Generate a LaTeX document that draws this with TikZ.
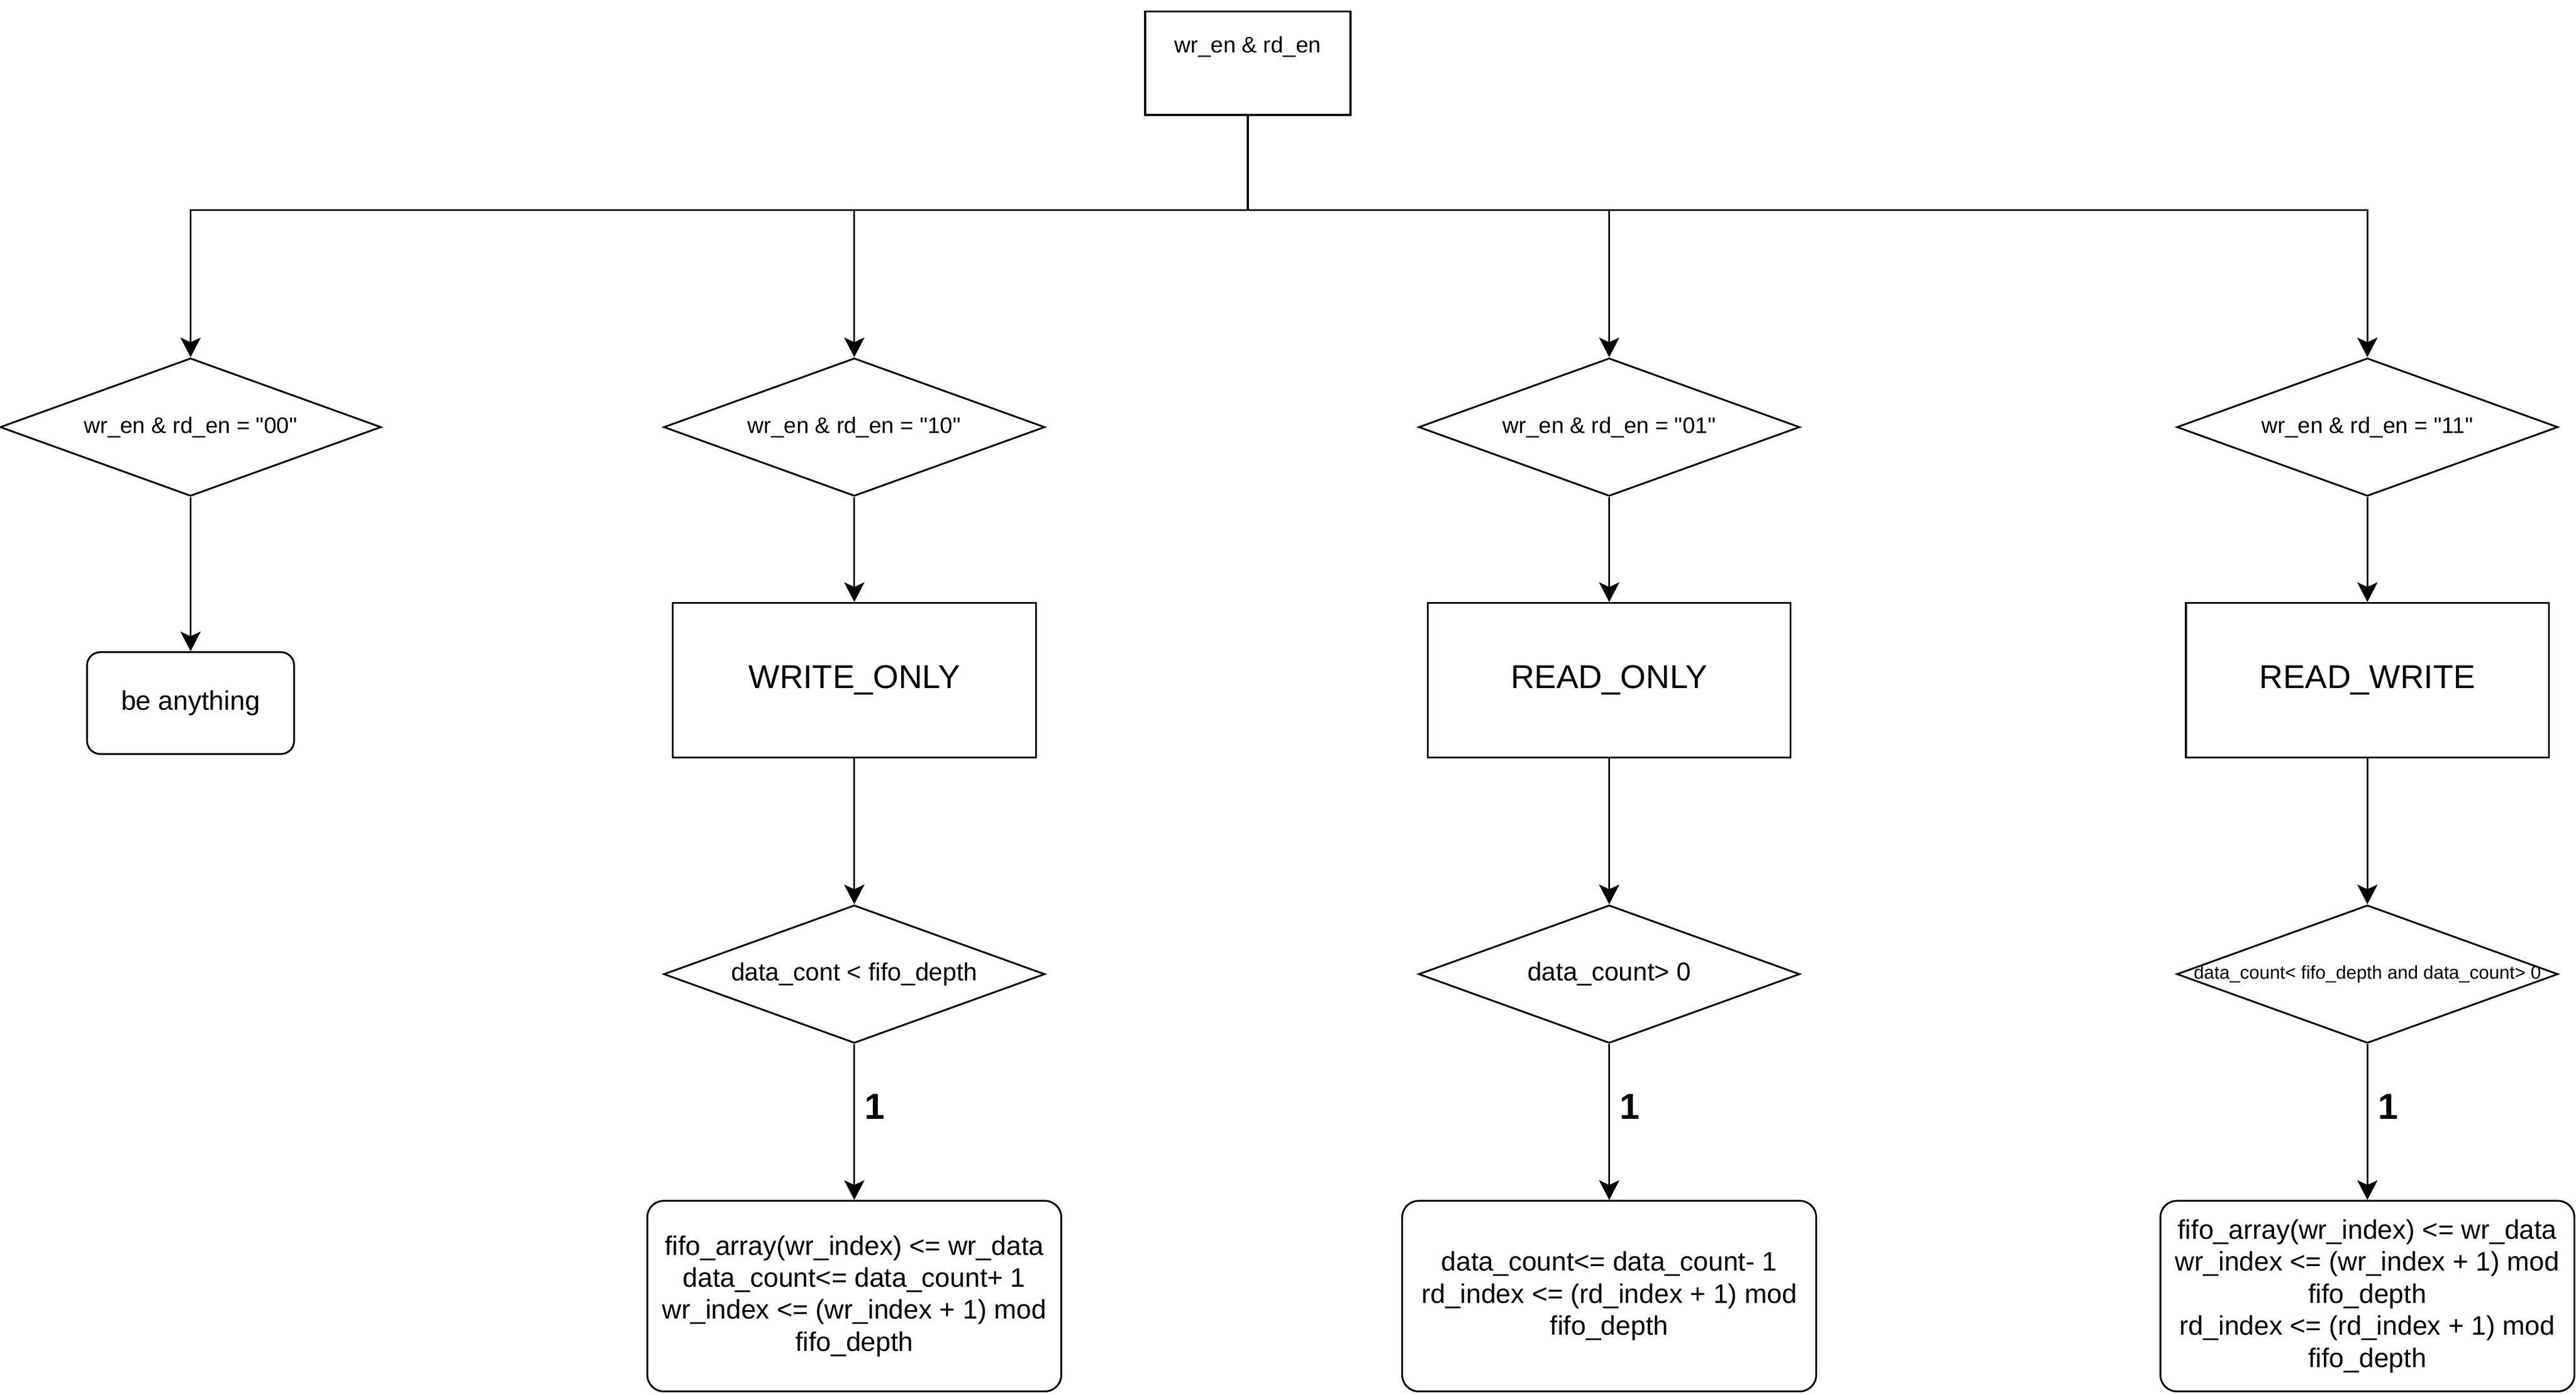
\documentclass[tikz,border=0pt]{standalone}
\usepackage{fontspec}
\setmainfont{Liberation Sans}
\usepackage{tikz}
\usetikzlibrary{arrows.meta,positioning,shapes.geometric}
\tikzset{node distance=4cm, auto}

\begin{document}
\begin{tikzpicture}[auto, node distance=3cm, >={Stealth[length=6.8pt, width=7pt, inset=1.6pt]}, line width=0.62pt,
	head/.style={draw, minimum width=2.5cm, inner xsep=0pt, inner ysep=0pt, text height=0.5cm, text depth=0.76cm, font=\fontsize{7.8}{9.4}\selectfont},
	test/.style={draw, diamond, aspect=2.76, inner sep=0pt, minimum width=4.64cm, minimum height=1.68cm, font=\fontsize{7.8}{9.4}\selectfont},
	mode/.style={draw, minimum width=4.42cm, minimum height=1.88cm, font=\fontsize{11.4}{13.7}\selectfont},
	idle/.style={draw, rounded corners=0.16cm, minimum width=2.52cm, minimum height=1.24cm, font=\fontsize{9.3}{11.1}\selectfont},
	work/.style={draw, rounded corners=0.2cm, minimum width=5.04cm, minimum height=2.32cm, align=center, font=\fontsize{9.3}{11.1}\selectfont}]
		\useasboundingbox (0,0) rectangle (31.36,-16.984);
		\node(T)[head] at (15.19,-0.77){wr\_en \& rd\_en};
		\coordinate(K) at (15.19,-2.56);
		\node(D1)[test] at (2.32,-5.2){wr\_en \& rd\_en = \textquotedbl 00\textquotedbl};
		\node(D2)[test] at (10.4,-5.2){wr\_en \& rd\_en = \textquotedbl 10\textquotedbl};
		\node(D3)[test] at (19.59,-5.2){wr\_en \& rd\_en = \textquotedbl 01\textquotedbl};
		\node(D4)[test] at (28.82,-5.2){wr\_en \& rd\_en = \textquotedbl 11\textquotedbl};
		\node(B1)[idle, below of=D1, node distance=3.36cm]{be anything};
		\node(M2)[mode, below of=D2, node distance=3.08cm]{WRITE\_ONLY};
		\node(M3)[mode, below of=D3, node distance=3.08cm]{READ\_ONLY};
		\node(M4)[mode, below of=D4, node distance=3.08cm]{READ\_WRITE};
		\node(C2)[test, below of=M2, node distance=3.58cm, font=\fontsize{8.6}{10.3}\selectfont]{data\_cont < fifo\_depth};
		\node(C3)[test, below of=M3, node distance=3.58cm, font=\fontsize{8.9}{10.7}\selectfont]{data\_count> 0};
		\node(C4)[test, below of=M4, node distance=3.58cm, font=\fontsize{6.4}{7.7}\selectfont]{\makebox[0pt]{data\_count< fifo\_depth and data\_count> 0}};
		\node(E2)[work, below of=C2, node distance=3.92cm]{fifo\_array(wr\_index) <= wr\_data\\data\_count<= data\_count+ 1\\wr\_index <= (wr\_index + 1) mod\\fifo\_depth};
		\node(E3)[work, below of=C3, node distance=3.92cm]{data\_count<= data\_count- 1\\rd\_index <= (rd\_index + 1) mod\\fifo\_depth};
		\node(E4)[work, below of=C4, node distance=3.92cm]{fifo\_array(wr\_index) <= wr\_data\\wr\_index <= (wr\_index + 1) mod\\fifo\_depth\\rd\_index <= (rd\_index + 1) mod\\fifo\_depth};
		% fan out
		\draw(T) -- (K);
		\draw[->](K) -| (D1);
		\draw[->](K) -| (D2);
		\draw[->](K) -| (D3);
		\draw[->](K) -| (D4);
		\draw[->](D1) to (B1);
		\draw[->](D2) to (M2);
		\draw[->](D3) to (M3);
		\draw[->](D4) to (M4);
		\draw[->](M2) to (C2);
		\draw[->](M3) to (C3);
		\draw[->](M4) to (C4);
		\draw[->](C2) to node[pos=0.4, font=\fontsize{12.5}{15}\bfseries]{1}(E2);
		\draw[->](C3) to node[pos=0.4, font=\fontsize{12.5}{15}\bfseries]{1}(E3);
		\draw[->](C4) to node[pos=0.4, font=\fontsize{12.5}{15}\bfseries]{1}(E4);
	\end{tikzpicture}
\end{document}
